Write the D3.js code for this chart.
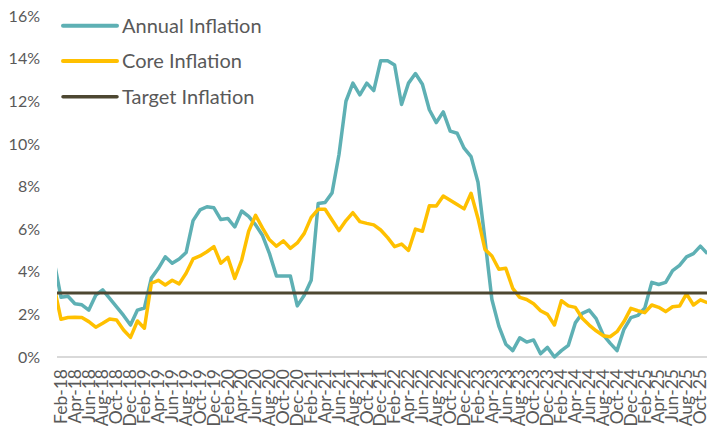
<!DOCTYPE html>
<html>
<head>
<meta charset="utf-8">
<script src="https://cdn.jsdelivr.net/npm/d3@7"></script>
<style>
  body { margin: 0; background: #fff; }
  svg { display: block; font-family: Lato, "Open Sans", sans-serif; }
</style>
</head>
<body>
<svg id="chart"></svg>
<script>
(function() {

    // Data, monthly from Jan-18 to Nov-25 (Jan-18 sits left of the plot edge)
    const firstYear = 2018;

    const annualInflation = [
        4.5, 2.8, 2.85, 2.5, 2.45, 2.2, 2.9, 3.15, 2.75, 2.35, 1.95, 1.5,      // 2018
        2.2, 2.3, 3.7, 4.15, 4.7, 4.4, 4.6, 4.9, 6.4, 6.9, 7.05, 7.0,         // 2019
        6.45, 6.5, 6.1, 6.85, 6.6, 6.2, 5.7, 4.85, 3.8, 3.8, 3.8, 2.4,        // 2020
        2.9, 3.6, 7.2, 7.25, 7.7, 9.5, 12.0, 12.85, 12.3, 12.85, 12.5, 13.9,  // 2021
        13.9, 13.7, 11.85, 12.85, 13.3, 12.8, 11.6, 11.0, 11.5, 10.6, 10.5, 9.8, // 2022
        9.4, 8.2, 5.5, 2.7, 1.45, 0.6, 0.3, 0.9, 0.7, 0.8, 0.15, 0.45,        // 2023
        0.0, 0.3, 0.55, 1.6, 2.05, 2.2, 1.8, 1.05, 0.65, 0.3, 1.3, 1.85,      // 2024
        1.95, 2.3, 3.5, 3.4, 3.5, 4.05, 4.3, 4.7, 4.85, 5.2, 4.85             // 2025
    ];

    const coreInflation = [
        3.3, 1.77, 1.85, 1.86, 1.85, 1.66, 1.4, 1.58, 1.78, 1.74, 1.27, 0.92, // 2018
        1.69, 1.35, 3.46, 3.6, 3.38, 3.6, 3.43, 3.93, 4.6, 4.74, 4.94, 5.18,  // 2019
        4.4, 4.68, 3.69, 4.55, 5.9, 6.65, 6.05, 5.5, 5.2, 5.45, 5.1, 5.35,    // 2020
        5.8, 6.55, 6.93, 6.93, 6.43, 5.93, 6.4, 6.77, 6.35, 6.27, 6.2, 5.96,  // 2021
        5.6, 5.18, 5.3, 5.0, 6.0, 5.9, 7.1, 7.08, 7.55, 7.35, 7.15, 6.95,     // 2022
        7.68, 6.5, 5.05, 4.74, 4.12, 4.16, 3.22, 2.8, 2.7, 2.5, 2.17, 2.0,    // 2023
        1.5, 2.64, 2.4, 2.33, 1.82, 1.5, 1.23, 1.0, 0.95, 1.19, 1.66, 2.28,   // 2024
        2.17, 2.08, 2.44, 2.33, 2.13, 2.36, 2.39, 2.96, 2.44, 2.68, 2.55      // 2025
    ];

    const targetInflation = 3;

    const seriesNames = ['Annual Inflation', 'Core Inflation', 'Target Inflation'];
    const seriesColors = ['#5eb0b4', '#ffc000', '#4d4731'];

    const yTicks = [0, 2, 4, 6, 8, 10, 12, 14, 16];

    // Months, index 0 = Jan-18
    const months = annualInflation.map((d, i) => new Date(firstYear, i, 1));
    const fmtMonth = d3.timeFormat('%b-%y');
    // label every second month starting Feb-18
    const tickIdx = months.map((d, i) => i).filter(i => i % 2 === 1);

    const w = 707;
    const h = 426;
    const plotLeft = 57;
    const plotRight = 707;

    const svg = d3.select('#chart')
        .attr('width', w)
        .attr('height', h);

    // Scales
    const scaleX = d3.scaleLinear().domain([1, 93]).range([61, 700.4]);
    const scaleY = d3.scaleLinear().domain([0, 16]).range([357, 16]);

    svg.append('clipPath')
        .attr('id', 'plot-clip')
        .append('rect')
        .attr('x', plotLeft)
        .attr('y', 0)
        .attr('width', plotRight - plotLeft + 5)
        .attr('height', h);

    // Y axis
    const yAxis = d3.axisLeft(scaleY)
        .tickValues(yTicks)
        .tickSize(0)
        .tickPadding(0)
        .tickFormat(d => d + '%');

    svg.append('g')
        .attr('transform', 'translate(40, 0)')
        .call(yAxis)
        .call(g => g.select('.domain').remove())
        .selectAll('text')
        .attr('fill', '#595959')
        .style('font-size', '16px')
        .style('font-family', 'Lato, sans-serif');

    // X axis baseline
    svg.append('line')
        .attr('x1', plotLeft)
        .attr('x2', plotRight)
        .attr('y1', scaleY(0))
        .attr('y2', scaleY(0))
        .attr('stroke', '#d9d9d9')
        .attr('stroke-width', 2);

    const xAxis = d3.axisBottom(scaleX)
        .tickValues(tickIdx)
        .tickSize(0)
        .tickFormat(i => fmtMonth(months[i]));

    svg.append('g')
        .attr('transform', `translate(0, ${scaleY(0)})`)
        .call(xAxis)
        .call(g => g.select('.domain').remove())
        .selectAll('text')
        .attr('fill', '#595959')
        .style('font-size', '17.5px')
        .style('font-family', 'Lato, sans-serif')
        .attr('text-anchor', 'end')
        .attr('transform', 'rotate(-90)')
        .attr('x', -12)
        .attr('y', 0)
        .attr('dy', '0.3em');

    // Lines
    const line = d3.line()
        .x((d, i) => scaleX(i))
        .y(d => scaleY(d));

    const lines = svg.append('g').attr('clip-path', 'url(#plot-clip)');

    const targetSeries = months.map(() => targetInflation);
    const allSeries = [annualInflation, coreInflation, targetSeries];
    const widths = [3.5, 3.5, 3];

    allSeries.forEach((s, k) => {
        lines.append('path')
            .datum(s)
            .attr('fill', 'none')
            .attr('stroke', seriesColors[k])
            .attr('stroke-width', widths[k])
            .attr('stroke-linejoin', 'round')
            .attr('d', line);
    });

    // Legend
    const legendY = [25.7, 61, 96.7];
    const legend = svg.append('g');

    seriesNames.forEach((name, k) => {
        legend.append('line')
            .attr('x1', 63)
            .attr('x2', 117)
            .attr('y1', legendY[k])
            .attr('y2', legendY[k])
            .attr('stroke', seriesColors[k])
            .attr('stroke-width', widths[k] + 0.5)
            .attr('stroke-linecap', 'round');

        legend.append('text')
            .attr('x', 122)
            .attr('y', legendY[k] + 7)
            .attr('fill', '#595959')
            .style('font-size', '20px')
            .text(name);
    });

})();
</script>
</body>
</html>
